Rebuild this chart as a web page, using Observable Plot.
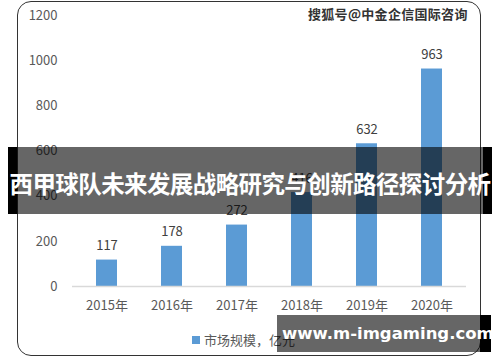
<!DOCTYPE html>
<html><head><meta charset="utf-8">
<script src="https://cdn.jsdelivr.net/npm/d3@7"></script>
<script src="https://cdn.jsdelivr.net/npm/@observablehq/plot@0.6"></script>
<style>
html,body{margin:0;padding:0;background:#fff;}
#wrap{position:relative;width:500px;height:362px;overflow:hidden;font-family:"Noto Sans CJK SC","Noto Sans",sans-serif;}
#frame{position:absolute;left:17px;top:1px;width:464px;height:355px;border:1.5px solid #333;border-radius:14px;box-sizing:border-box;}
#chart{position:absolute;left:0;top:0;}
#wm{position:absolute;left:308px;top:4px;font-size:13px;font-weight:bold;color:#333;letter-spacing:0.3px;text-shadow:0 0 2px #fff,0 0 2px #fff;}
#banner{position:absolute;left:8px;top:147px;width:484px;height:67px;background:rgba(0,0,0,0.6);}
#bl{position:absolute;left:8px;top:147px;width:9px;height:67px;background:#000;}
#br{position:absolute;left:483px;top:147px;width:9px;height:67px;background:#000;}
#btext{position:absolute;left:0;top:168px;width:500px;text-align:center;color:#fff;font-size:23.5px;font-weight:bold;line-height:30px;white-space:nowrap;letter-spacing:-0.6px;}
#legend{position:absolute;left:192px;top:330px;font-size:13px;color:#595959;white-space:nowrap;}
#legend span.sw{display:inline-block;width:8px;height:8px;background:#5b9bd5;margin-right:4px;vertical-align:1px;}
#url{position:absolute;left:277px;top:315px;width:203px;height:37px;background:rgba(0,0,0,0.6);}
#urlb{position:absolute;left:480px;top:315px;width:11px;height:37px;background:#000;}
#urltext{position:absolute;left:282px;top:315px;width:200px;height:37px;line-height:37px;text-align:center;color:#fff;font-size:16.5px;font-weight:bold;font-family:"DejaVu Sans","Noto Sans",sans-serif;white-space:nowrap;}
</style></head>
<body>
<div id="wrap">
<div id="frame"></div>
<div id="chart"></div>
<div id="wm">搜狐号@中金企信国际咨询</div>
<div id="legend"><span class="sw"></span>市场规模，亿元</div>
<div id="banner"></div><div id="bl"></div><div id="br"></div>
<div id="btext">西甲球队未来发展战略研究与创新路径探讨分析</div>
<div id="url"></div><div id="urlb"></div>
<div id="urltext">www.m-imgaming.com</div>
</div>
<script>
const years = ["2015年","2016年","2017年","2018年","2019年","2020年"];
const values = [117,178,272,416,632,963];
const yTicks = [0,200,400,600,800,1000,1200];
const data = years.map((y,i)=>({year:y,value:values[i]}));
const chart = Plot.plot({
  width:500,height:362,
  marginTop:15,marginBottom:76,marginLeft:72,marginRight:34,
  style:{fontFamily:'"Noto Sans CJK SC","Noto Sans",sans-serif',fontSize:"13px",background:"transparent"},
  x:{domain:years,paddingInner:0.68,paddingOuter:0.34,label:null},
  y:{domain:[0,1200],label:null},
  marks:[
    Plot.axisY({ticks:yTicks,tickFormat:d=>String(d),tickSize:0,tickPadding:15,fill:"#595959",fontSize:13,label:null}),
    Plot.axisX({tickSize:0,tickPadding:14,fill:"#595959",fontSize:13,label:null}),
    Plot.barY(data,{x:"year",y:"value",fill:"#5b9bd5"}),
    Plot.ruleY([0],{stroke:"#d9d9d9",strokeWidth:1.5}),
    Plot.text(data,{x:"year",y:"value",text:d=>String(d.value),dy:-14,fill:"#404040",fontSize:13})
  ]
});
document.getElementById("chart").appendChild(chart);
</script>
</body></html>
